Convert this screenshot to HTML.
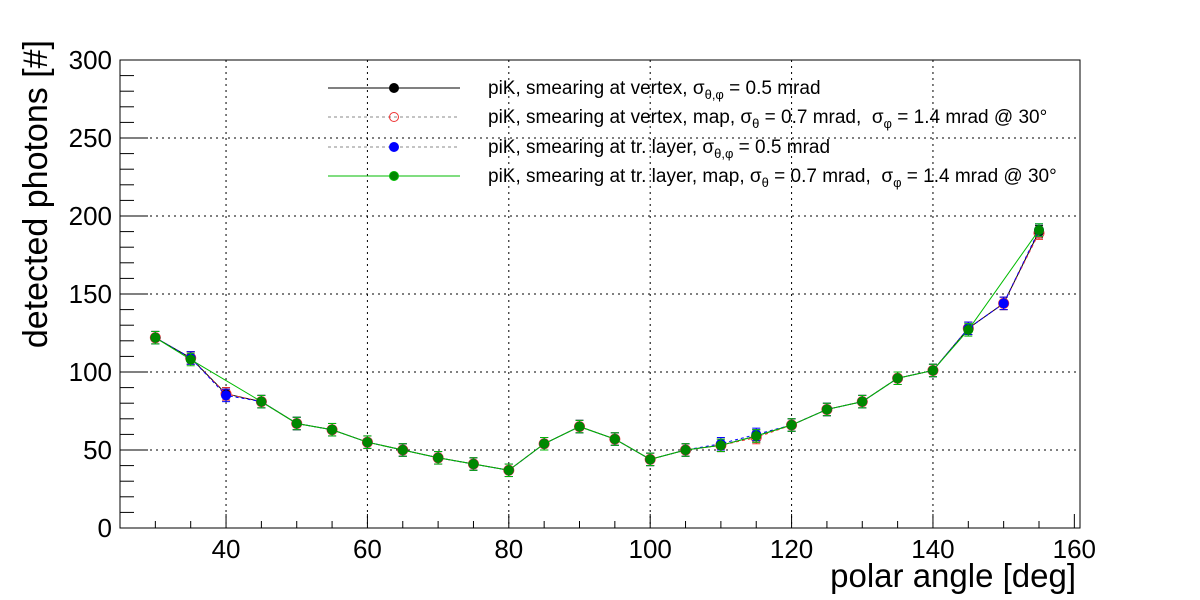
<!DOCTYPE html>
<html><head><meta charset="utf-8"><style>
html,body{margin:0;padding:0;background:#fff;}
svg{display:block;font-family:"Liberation Sans",sans-serif;}
</style></head><body>
<svg id="c" width="1200" height="600" viewBox="0 0 1200 600"></svg>
<script>
const angles=[30,35,40,45,50,55,60,65,70,75,80,85,90,95,100,105,110,115,120,125,130,135,140,145,150,155];
const blackVals=[122,109,86,81,67,63,55,50,45,41,37,54,65,57,44,50,53,59,66,76,81,96,101,128,144,190];
const redVals=[122,109,86,81,67,63,55,50,45,41,37,54,65,57,44,50,53,58,66,76,81,96,101,128,144,189];
const blueVals=[122,109,85,81,67,63,55,50,45,41,37,54,65,57,44,50,54,60,66,76,81,96,101,128,144,191];
const greenVals=[122,108,null,81,67,63,55,50,45,41,37,54,65,57,44,50,53,59,66,76,81,96,101,127,null,191];
const errVals=[4,4,4,4,4,4,4,4,4,4,4,4,4,4,4,4,4,4,4,4,4,4,4,4,4,4];
const xTicks=[40,60,80,100,120,140,160];
const yTicks=[0,50,100,150,200,250,300];
const L=120,R=1080,T=60,B=528,X0=25,X1=160.8,Y1=300;
const sx=v=>L+(v-X0)/(X1-X0)*(R-L);
const sy=v=>B-v/Y1*(B-T);
const svg=document.getElementById('c');
const NS='http://www.w3.org/2000/svg';
function mk(tag,a,parent){const e=document.createElementNS(NS,tag);for(const k in a)e.setAttribute(k,a[k]);(parent||svg).appendChild(e);return e;}
for(const t of xTicks){if(t>=160)continue;const g=mk('line',{x1:sx(t),x2:sx(t),y1:T,y2:B,stroke:'#000','stroke-dasharray':'2,4','stroke-width':1});

}
for(const t of yTicks){if(t==0||t==300)continue;const g=mk('line',{x1:L,x2:R,y1:sy(t),y2:sy(t),stroke:'#000','stroke-dasharray':'2,4','stroke-width':1});

}
const fr=mk('rect',{x:L,y:T,width:R-L,height:B-T,fill:'none',stroke:'#000','stroke-width':1});


for(let v=30;v<=160;v+=5){const maj=v%20==0;mk('line',{x1:sx(v),x2:sx(v),y1:B,y2:B-(maj?14:7),stroke:'#000'});}
for(const t of xTicks){const tx=mk('text',{x:sx(t),y:B+30,'text-anchor':'middle','font-size':26});tx.textContent=t;

}
for(let v=0;v<=300;v+=10){const maj=v%50==0;mk('line',{x1:L,x2:L+(maj?28:14),y1:sy(v),y2:sy(v),stroke:'#000'});}
for(const t of yTicks){const tx=mk('text',{x:L-8,y:sy(t)+9,'text-anchor':'end','font-size':26});tx.textContent=t;

}
const xt=mk('text',{x:1076,y:587,'text-anchor':'end','font-size':33});xt.textContent='polar angle [deg]';


const yt=mk('text',{x:0,y:0,'text-anchor':'end','font-size':34,transform:'translate(47,40) rotate(-90)'});yt.textContent='detected photons [#]';


const series=[
 {vals:blackVals,col:'#000',dash:'',fill:'#000',name:'series-vertex'},
 {vals:redVals,col:'#e33',dash:'3,3',fill:'none',name:'series-vertex-map'},
 {vals:blueVals,col:'#00f',dash:'3,3',fill:'#00f',name:'series-tr-layer'},
 {vals:greenVals,col:'#0b0',dash:'',fill:'#080',name:'series-tr-layer-map'}];
for(const s of series){
 const g=mk('g',{});
 
 
 let pts=[];angles.forEach((a,i)=>{if(s.vals[i]!=null)pts.push(sx(a)+','+sy(s.vals[i]));});
 mk('polyline',{points:pts.join(' '),fill:'none',stroke:s.col,'stroke-width':1,'stroke-dasharray':s.dash},g);
 angles.forEach((a,i)=>{const v=s.vals[i];if(v==null)return;const x=sx(a);
  mk('line',{x1:x,x2:x,y1:sy(v-errVals[i]),y2:sy(v+errVals[i]),stroke:s.col},g);
  mk('line',{x1:x-4,x2:x+4,y1:sy(v-errVals[i]),y2:sy(v-errVals[i]),stroke:s.col},g);
  mk('line',{x1:x-4,x2:x+4,y1:sy(v+errVals[i]),y2:sy(v+errVals[i]),stroke:s.col},g);
  const c=mk('circle',{cx:x,cy:sy(v),r:5,fill:s.fill,stroke:s.col,'stroke-width':s.fill=='none'?1:0},g);
  
  
 });
}
const leg=[
 ['#000','',"#000",'piK, smearing at vertex, σ<tspan dy="5" font-size="13">θ,φ</tspan><tspan dy="-5"> = 0.5 mrad</tspan>'],
 ['#e33','3,3','none','piK, smearing at vertex, map, σ<tspan dy="5" font-size="13">θ</tspan><tspan dy="-5"> = 0.7 mrad,  σ</tspan><tspan dy="5" font-size="13">φ</tspan><tspan dy="-5"> = 1.4 mrad @ 30°</tspan>'],
 ['#00f','3,3','#00f','piK, smearing at tr. layer, σ<tspan dy="5" font-size="13">θ,φ</tspan><tspan dy="-5"> = 0.5 mrad</tspan>'],
 ['#0b0','','#080','piK, smearing at tr. layer, map, σ<tspan dy="5" font-size="13">θ</tspan><tspan dy="-5"> = 0.7 mrad,  σ</tspan><tspan dy="5" font-size="13">φ</tspan><tspan dy="-5"> = 1.4 mrad @ 30°</tspan>']];
const ly=[88,117,147,176];
leg.forEach((l,i)=>{const g=mk('g',{});
 
 
 mk('line',{x1:328,x2:460,y1:ly[i],y2:ly[i],stroke:l[0]=='#e33'||l[0]=='#00f'?'#888':l[0],'stroke-dasharray':l[1]},g);
 mk('circle',{cx:394,cy:ly[i],r:4.5,fill:l[2],stroke:l[0]},g);
 const t=mk('text',{x:488,y:ly[i]+6,'font-size':19,'xml:space':'preserve'},g);t.style.whiteSpace='pre';t.innerHTML=l[3];});
</script>
</body></html>
